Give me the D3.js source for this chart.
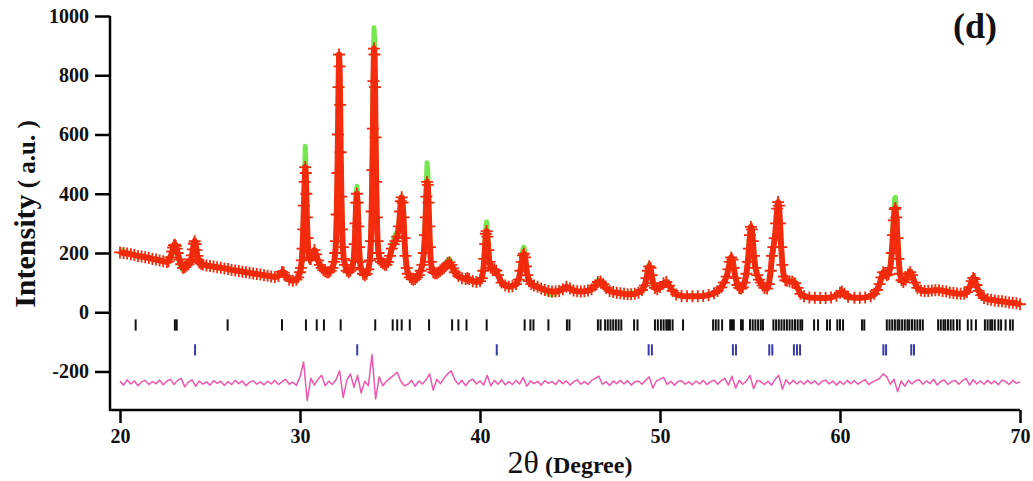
<!DOCTYPE html>
<html>
<head>
<meta charset="utf-8">
<script src="https://d3js.org/d3.v7.min.js"></script>
<style>
body { margin: 0; background: #fff; }
text { font-family: "Liberation Serif", "Times New Roman", serif; }
</style>
</head>
<body>
<script>
// observed / calculated pattern, rows are [2theta, Yobs, Ycalc]
var profile = [
  [20.0,202,212],[20.2,200,206],[20.4,198,200],[20.6,196,196],[20.8,193,193],[21.0,190,190],[21.2,188,188],[21.4,186,186],[21.6,183,183],[21.8,180,180],[22.0,178,178],[22.2,175,175],[22.4,172,172],[22.6,170,170],
  [22.7,172,172],[22.8,185,180],[22.9,205,195],[22.95,218,205],[23.0,226,212],[23.05,228,215],[23.1,224,213],[23.15,215,206],[23.2,200,192],[23.3,178,168],[23.4,162,150],[23.5,150,140],[23.6,152,145],[23.7,158,152],
  [23.8,162,158],[23.9,170,166],[23.95,178,175],[24.0,192,190],[24.05,212,208],[24.1,232,222],[24.15,240,226],[24.2,230,218],[24.25,210,200],[24.3,190,184],[24.35,176,172],[24.4,168,166],[24.5,164,163],[24.6,161,161],
  [24.8,158,158],[25.0,156,156],[25.2,154,154],[25.4,152,152],[25.6,150,150],[25.8,148,148],[26.0,146,146],[26.2,143,143],[26.4,141,141],[26.6,139,139],[26.8,137,137],[27.0,135,135],[27.2,133,133],[27.4,131,131],
  [27.6,129,129],[27.8,127,127],[28.0,125,125],[28.2,123,123],[28.4,121,121],[28.6,119,119],[28.8,122,121],[29.0,136,132],[29.1,134,131],[29.2,122,120],[29.4,110,110],[29.6,106,106],[29.8,110,110],[29.9,118,116],
  [30.0,135,130],[30.05,150,145],[30.1,175,170],[30.14,215,215],[30.18,280,290],[30.22,360,380],[30.26,440,475],[30.29,490,560],[30.32,470,510],[30.35,400,420],[30.38,320,330],[30.42,250,250],[30.46,205,200],
  [30.5,185,180],[30.55,180,176],[30.6,180,178],[30.7,195,190],[30.8,210,200],[30.9,195,190],[31.0,175,172],[31.1,160,158],[31.2,150,148],[31.3,142,141],[31.4,138,137],[31.5,135,135],[31.6,135,135],[31.7,140,140],
  [31.8,150,148],[31.9,170,165],[31.96,200,195],[32.0,240,235],[32.04,330,320],[32.08,470,455],[32.11,600,590],[32.14,760,740],[32.17,870,835],[32.2,830,800],[32.23,700,680],[32.26,540,530],[32.3,390,385],
  [32.34,280,275],[32.38,220,215],[32.43,180,178],[32.5,160,158],[32.6,140,140],[32.7,135,135],[32.8,140,140],[32.9,150,150],[32.98,175,175],[33.04,230,235],[33.08,300,310],[33.12,370,395],[33.16,400,425],
  [33.2,370,390],[33.24,290,300],[33.28,220,225],[33.33,170,170],[33.4,145,145],[33.5,130,130],[33.6,125,125],[33.7,130,130],[33.8,145,145],[33.88,175,180],[33.94,240,250],[33.98,340,360],[34.02,480,510],
  [34.05,620,660],[34.08,780,820],[34.11,890,960],[34.14,870,925],[34.17,760,800],[34.2,590,620],[34.23,440,460],[34.27,320,330],[34.31,240,245],[34.36,200,200],[34.42,180,180],[34.5,170,170],[34.6,165,165],
  [34.7,160,160],[34.8,160,160],[34.9,170,172],[35.0,190,195],[35.1,215,222],[35.2,230,245],[35.3,240,262],[35.4,255,272],[35.5,290,300],[35.56,340,345],[35.6,375,380],[35.65,388,390],[35.7,370,372],
  [35.75,320,320],[35.8,250,248],[35.86,190,185],[35.93,150,148],[36.0,130,128],[36.1,118,118],[36.2,112,112],[36.3,110,110],[36.4,112,112],[36.5,118,118],[36.6,125,125],[36.7,140,140],[36.8,160,162],
  [36.88,200,205],[36.94,260,275],[36.98,320,350],[37.02,390,440],[37.06,440,505],[37.1,430,475],[37.14,370,395],[37.18,290,300],[37.22,220,225],[37.27,170,170],[37.33,145,145],[37.4,135,135],[37.5,132,132],
  [37.6,132,132],[37.7,135,135],[37.8,140,140],[37.9,145,147],[38.0,150,155],[38.1,158,165],[38.2,165,175],[38.3,168,180],[38.4,160,168],[38.5,148,152],[38.6,135,137],[38.8,122,122],[39.0,115,115],
  [39.2,112,112],[39.3,116,114],[39.4,112,112],[39.6,105,105],[39.8,102,102],[40.0,105,105],[40.1,115,118],[40.18,140,148],[40.24,180,195],[40.29,230,255],[40.33,265,295],[40.37,274,305],[40.41,255,280],
  [40.46,210,225],[40.52,170,175],[40.6,150,150],[40.7,145,145],[40.8,145,145],[40.9,140,140],[41.0,125,125],[41.2,100,100],[41.4,90,90],[41.6,86,86],[41.8,88,88],[42.0,95,95],[42.15,110,112],
  [42.25,140,148],[42.32,170,185],[42.38,192,212],[42.44,198,220],[42.5,185,200],[42.56,155,165],[42.63,125,128],[42.72,105,105],[42.85,95,95],[43.0,90,90],[43.2,86,86],[43.4,80,80],[43.6,75,72],
  [43.8,72,62],[44.0,70,58],[44.2,70,64],[44.4,72,72],[44.6,78,78],[44.8,86,86],[45.0,80,80],[45.2,73,73],[45.4,71,71],[45.6,70,70],[45.8,71,71],[46.0,73,73],[46.2,78,78],[46.4,90,92],[46.55,102,108],
  [46.7,104,106],[46.85,95,95],[47.0,82,82],[47.2,72,72],[47.4,68,68],[47.6,66,66],[47.8,64,64],[48.0,62,62],[48.2,61,64],[48.4,61,66],[48.6,62,64],[48.8,66,66],[49.0,75,75],[49.15,90,92],[49.25,115,120],
  [49.33,140,150],[49.4,155,162],[49.47,150,152],[49.54,125,125],[49.62,98,98],[49.72,82,82],[49.85,78,78],[50.0,85,85],[50.2,98,98],[50.35,102,100],[50.5,90,90],[50.7,72,72],[50.9,60,58],[51.2,55,55],
  [51.5,54,54],[51.8,54,54],[52.1,54,54],[52.4,55,55],[52.7,58,58],[53.0,64,64],[53.2,72,72],[53.4,84,84],[53.55,100,100],[53.7,120,122],[53.8,145,150],[53.88,170,175],[53.95,185,185],[54.02,178,175],
  [54.1,150,148],[54.2,115,115],[54.3,92,92],[54.4,82,82],[54.5,80,80],[54.6,84,84],[54.7,100,100],[54.8,130,132],[54.88,170,175],[54.94,215,225],[55.0,260,275],[55.05,288,290],[55.1,280,278],
  [55.16,240,235],[55.22,190,185],[55.3,150,148],[55.4,125,125],[55.5,110,110],[55.6,100,100],[55.7,90,90],[55.8,82,82],[55.95,80,80],[56.05,95,95],[56.15,140,135],[56.22,190,180],[56.3,220,215],
  [56.38,250,250],[56.45,300,305],[56.51,350,355],[56.56,372,368],[56.61,360,350],[56.67,300,290],[56.73,220,215],[56.8,160,160],[56.88,120,120],[56.96,108,108],[57.05,106,106],[57.2,104,106],
  [57.35,103,110],[57.5,98,104],[57.65,82,84],[57.8,62,62],[58.0,54,54],[58.3,50,50],[58.6,49,49],[58.9,48,48],[59.2,48,48],[59.5,50,50],[59.8,56,56],[60.0,66,64],[60.1,70,66],[60.25,62,58],
  [60.45,52,48],[60.8,49,49],[61.1,49,49],[61.4,50,50],[61.7,54,54],[61.9,62,62],[62.05,75,75],[62.2,95,95],[62.3,118,115],[62.4,135,130],[62.5,132,130],[62.6,125,125],[62.7,128,130],[62.8,150,160],
  [62.88,200,215],[62.94,260,285],[62.99,310,345],[63.04,348,385],[63.08,352,388],[63.13,320,345],[63.19,250,265],[63.25,180,185],[63.33,130,130],[63.42,108,108],[63.52,102,102],[63.65,110,110],
  [63.78,128,128],[63.9,135,133],[64.0,125,125],[64.15,100,100],[64.3,82,82],[64.5,73,73],[64.7,72,72],[64.9,72,72],[65.1,73,73],[65.3,74,78],[65.5,74,76],[65.7,72,72],[65.9,70,74],[66.1,67,70],
  [66.3,65,65],[66.5,63,63],[66.7,62,62],[66.9,62,62],[67.05,68,68],[67.2,85,85],[67.32,105,108],[67.4,116,120],[67.48,112,114],[67.58,92,92],[67.7,72,72],[67.85,58,58],[68.0,48,48],[68.2,44,44],
  [68.4,42,42],[68.6,40,40],[68.8,38,38],[69.0,37,37],[69.2,35,35],[69.4,33,33],[69.6,32,32],[69.8,30,30],[70.0,27,27]
];

// Yobs - Ycalc, one value every 0.2 degree from 20 to 70
var diffStart = 20, diffStep = 0.2;
var diffCurve = [
  5, -8, 10, -4, 6, -10, 3, 8, -6, 4,
  -3, 9, -7, 5, 12, -6, 8, 15, -14, 2,
  10, -12, 6, -5, 3, -8, 7, -2, 5, -9,
  4, -6, 8, -3, 6, -10, 2, 7, -5, 3,
  -7, 5, -4, 8, -6, 3, 12, -5, 2, -9,
  20, 70, -60, 15, -8, 12, 25, -10, 5, -6,
  10, 40, -50, 8, 30, -15, 25, -35, 5, -10,
  95, -55, 20, -10, 5, 15, 25, 35, 5, -10,
  -5, 8, -12, 6, -4, 10, 30, -25, 12, -3,
  15, 30, 40, 10, -5, 8, -10, 6, 12, -4,
  6, -8, 25, -10, 8, -5, 10, -7, 4, -6,
  8, -4, 18, -12, 6, -3, 5, -8, 7, -2,
  4, -6, 9, -3, 6, -8, 3, 10, -5, 4,
  -6, 8, 15, 22, -5, 4, -9, 6, -3, 8,
  -4, 7, -8, 3, 6, -5, 8, 20, -18, 6,
  12, 18, -6, 5, -8, 4, 7, -5, 3, -7,
  6, -4, 8, -6, 3, 9, -5, 7, 15, -8,
  22, -18, 8, -5, 6, 25, -20, 8, 4, -6,
  5, -8, 12, 25, -22, 10, -5, 8, -4, 6,
  -5, 8, -3, 6, -7, 4, 9, -4, 6, -8,
  5, -6, 8, -3, 7, -5, 4, 10, -6, 3,
  8, 15, 30, 20, -5, 12, -30, 6, -12, 8,
  -4, 7, 10, -5, 6, -3, 12, -8, 5, 9,
  -6, 4, 8, -5, 7, 15, -8, 10, -4, 6,
  -5, 8, -3, 6, -7, 9, 4, -6, 8, -2,
  3
];
var diffOffset = -238;

// Bragg positions
var phase1 = [20.87, 23.05, 23.15, 25.98, 29.0, 30.33, 30.93, 31.33, 32.26, 34.18, 35.15, 35.4, 35.65, 36.1, 37.17,
  38.45, 38.8, 39.25, 40.37, 42.48, 42.8, 42.97, 43.8, 44.83, 44.97, 46.55, 46.7, 46.95, 47.1, 47.25, 47.4, 47.55,
  47.7, 47.85, 48.56, 48.75, 49.72, 49.88, 50.05, 50.2, 50.35, 50.45, 50.55, 50.7, 51.28, 52.95, 53.1, 53.25, 53.45,
  53.9, 54.0, 54.1, 54.5, 54.6, 55.0, 55.15, 55.3, 55.45, 55.6, 55.72, 56.3, 56.45, 56.6, 56.75, 56.9, 57.05, 57.2,
  57.35, 57.5, 57.65, 57.8, 57.9, 58.56, 58.78, 59.28, 59.44, 59.85, 60.0, 60.17, 61.22, 61.35, 62.6, 62.75, 62.9,
  63.05, 63.2, 63.3, 63.45, 63.6, 63.75, 63.85, 64.0, 64.15, 64.3, 64.45, 64.6, 65.45, 65.6, 65.75, 65.85, 66.0,
  66.15, 66.3, 66.5, 66.65, 67.1, 67.3, 67.55, 68.05, 68.2, 68.35, 68.45, 68.6, 68.8, 68.95, 69.2, 69.45, 69.6];
var phase2 = [24.17, 33.18, 40.93, 49.37, 49.55, 54.05, 54.22, 56.07, 56.24, 57.44, 57.61, 57.78, 62.41, 62.56, 63.96, 64.11];

var xTicks = [20, 30, 40, 50, 60, 70];
var yTicks = [-200, 0, 200, 400, 600, 800, 1000];

var w = 1033;
var h = 481;

var x = d3.scaleLinear().domain([20, 70]).range([120, 1020]);
var y = d3.scaleLinear().domain([-330, 1000]).range([410, 16]);

var svg = d3.select("body").append("svg")
  .attr("width", w)
  .attr("height", h);

// reflection markers
svg.selectAll(".p1")
 .data(phase1)
 .enter().append("line")
  .attr("x1", function(d) { return x(d); })
  .attr("x2", function(d) { return x(d); })
  .attr("y1", y(-24))
  .attr("y2", y(-62))
  .style("stroke", "#111")
  .style("stroke-width", 2);

svg.selectAll(".p2")
 .data(phase2)
 .enter().append("line")
  .attr("x1", function(d) { return x(d); })
  .attr("x2", function(d) { return x(d); })
  .attr("y1", y(-108))
  .attr("y2", y(-146))
  .style("stroke", "#3a3aa8")
  .style("stroke-width", 2);

// difference curve
var diffLine = d3.line()
  .x(function(d, i) { return x(diffStart + i * diffStep); })
  .y(function(d) { return y(d + diffOffset); });

svg.append("path")
  .datum(diffCurve)
  .attr("d", diffLine)
  .attr("fill", "none")
  .style("stroke", "#ec58ac")
  .style("stroke-width", 1.5)
  .style("stroke-linejoin", "round");

// calculated
var calcLine = d3.line()
  .x(function(d) { return x(d[0]); })
  .y(function(d) { return y(d[2]); });

svg.append("path")
  .datum(profile)
  .attr("d", calcLine)
  .attr("fill", "none")
  .style("stroke", "#74e84e")
  .style("stroke-width", 5)
  .style("stroke-linejoin", "round");

// observed
var obsLine = d3.line()
  .x(function(d) { return x(d[0]); })
  .y(function(d) { return y(d[1]); });

svg.append("path")
  .datum(profile)
  .attr("d", obsLine)
  .attr("fill", "none")
  .style("stroke", "#f62c0e")
  .style("stroke-width", 6)
  .style("stroke-linejoin", "round");

svg.selectAll(".obs")
 .data(profile)
 .enter().append("path")
  .attr("transform", function(d) { return "translate(" + x(d[0]) + "," + y(d[1]) + ")"; })
  .attr("d", "M-6,0H6M0,-6V6")
  .style("stroke", "#f02a0c")
  .style("stroke-width", 1.8);

// axes
var xAxis = svg.append("g")
  .attr("transform", "translate(0,410)")
  .call(d3.axisBottom(x).tickValues(xTicks).tickSize(13).tickPadding(6).tickSizeOuter(0));

var yAxis = svg.append("g")
  .attr("transform", "translate(110,0)")
  .call(d3.axisLeft(y).tickValues(yTicks).tickSize(15).tickPadding(6).tickSizeOuter(0)
    .tickFormat(function(d) { return d; }));

svg.selectAll(".domain").remove();
svg.selectAll(".tick line").style("stroke", "#000").style("stroke-width", 2.5);
svg.selectAll(".tick text")
  .style("font-family", "'Liberation Serif', 'Times New Roman', serif")
  .style("font-size", "20px")
  .style("font-weight", "bold")
  .style("fill", "#111");

svg.append("line")
  .attr("x1", 110).attr("x2", x(70))
  .attr("y1", 410).attr("y2", 410)
  .style("stroke", "#000")
  .style("stroke-width", 2.5);

svg.append("line")
  .attr("x1", 110).attr("x2", 110)
  .attr("y1", y(1000)).attr("y2", 411)
  .style("stroke", "#000")
  .style("stroke-width", 2.5);

// titles
var xt = svg.append("text")
  .attr("x", 570)
  .attr("y", 473)
  .attr("text-anchor", "middle")
  .style("fill", "#111");
xt.append("tspan").style("font-size", "32px").text("2θ");
xt.append("tspan").style("font-size", "24px").style("font-weight", "bold").text(" (Degree)");

var yt = svg.append("text")
  .attr("transform", "translate(35,214) rotate(-90)")
  .attr("text-anchor", "middle")
  .style("fill", "#111")
  .style("font-weight", "bold");
yt.append("tspan").style("font-size", "30px").text("Intensity");
yt.append("tspan").style("font-size", "25px").text(" ( a.u. )");

svg.append("text")
  .attr("x", 975)
  .attr("y", 38)
  .attr("text-anchor", "middle")
  .style("font-size", "36px")
  .style("font-weight", "bold")
  .style("fill", "#111")
  .text("(d)");
</script>
</body>
</html>
